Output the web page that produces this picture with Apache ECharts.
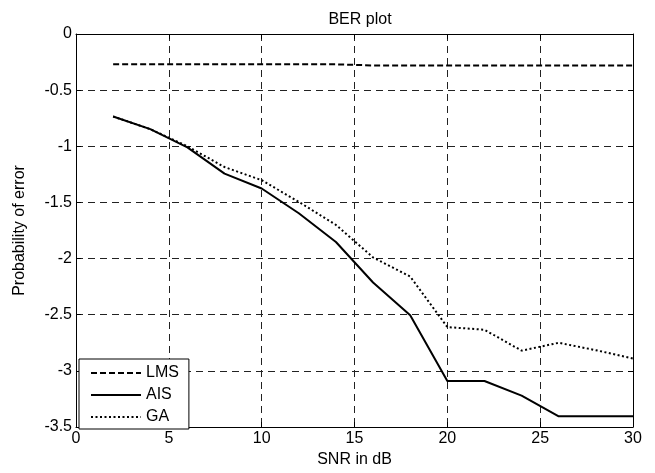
<!DOCTYPE html>
<html>
<head>
<meta charset="utf-8">
<script src="https://cdn.jsdelivr.net/npm/echarts@6/dist/echarts.min.js"></script>
<style>html,body{margin:0;padding:0;background:#fff;}#c{width:655px;height:473px;}</style>
</head>
<body>
<div id="c"></div>
<script>
const snr = [2, 4, 6, 8, 10, 12, 14, 16, 18, 20, 22, 24, 26, 28, 30];
const lms = [-0.27, -0.27, -0.27, -0.27, -0.27, -0.27, -0.27, -0.28, -0.28, -0.28, -0.28, -0.28, -0.28, -0.28, -0.28];
const ais = [-0.735, -0.847, -1.01, -1.243, -1.376, -1.596, -1.852, -2.213, -2.504, -3.09, -3.09, -3.22, -3.405, -3.405, -3.405];
const ga = [-0.735, -0.847, -1.0, -1.185, -1.302, -1.495, -1.70, -1.99, -2.16, -2.61, -2.634, -2.82, -2.75, -2.816, -2.89];
const xTicks = [0, 5, 10, 15, 20, 25, 30];
const yTicks = [0, -0.5, -1, -1.5, -2, -2.5, -3, -3.5];

const font = 'Liberation Sans, Arial, sans-serif';
const fs = 16;
const pair = (xs, ys) => xs.map((x, i) => [x, ys[i]]);

const chart = echarts.init(document.getElementById('c'), null, {renderer: 'canvas'});
const gridLine = {show: true, lineStyle: {color: '#222', type: [7, 5], width: 1}};
chart.setOption({
  animation: false,
  backgroundColor: '#fff',
  title: {text: 'BER plot', left: 355, textAlign: 'center', top: 7,
    textStyle: {fontFamily: font, fontSize: fs, fontWeight: 'normal', color: '#000'}},
  grid: {left: 76, right: 22, top: 34, bottom: 42, containLabel: false},
  legend: {
    left: 79, top: 359, orient: 'vertical', itemWidth: 50, itemHeight: 16, itemGap: 6,
    padding: [6, 10, 4, 11],
    borderColor: '#000', borderWidth: 1, backgroundColor: '#fff',
    textStyle: {fontFamily: font, fontSize: fs, color: '#000'},
    itemStyle: {opacity: 0},
    data: ['LMS', 'AIS', 'GA']
  },
  xAxis: [{
    type: 'value', min: 0, max: 30, interval: 5,
    name: 'SNR in dB', nameLocation: 'middle', nameGap: 25,
    nameTextStyle: {fontFamily: font, fontSize: fs, color: '#000'},
    axisLine: {show: true, onZero: false, lineStyle: {color: '#000', width: 1}},
    axisTick: {show: true, inside: true, length: 5, lineStyle: {color: '#000'}},
    axisLabel: {fontFamily: font, fontSize: fs, color: '#000', margin: 4},
    splitLine: gridLine
  }, {
    type: 'value', min: 0, max: 30, interval: 5, position: 'top',
    axisLine: {show: true, onZero: false, lineStyle: {color: '#000', width: 1}},
    axisTick: {show: true, inside: true, length: 5, lineStyle: {color: '#000'}},
    axisLabel: {show: false}, splitLine: {show: false}
  }],
  yAxis: [{
    type: 'value', min: -3.5, max: 0, interval: 0.5,
    name: 'Probability of error', nameLocation: 'middle', nameGap: 48,
    nameTextStyle: {fontFamily: font, fontSize: fs, color: '#000'},
    axisLine: {show: true, onZero: false, lineStyle: {color: '#000', width: 1}},
    axisTick: {show: true, inside: true, length: 5, lineStyle: {color: '#000'}},
    axisLabel: {fontFamily: font, fontSize: fs, color: '#000', margin: 4},
    splitLine: gridLine
  }, {
    type: 'value', min: -3.5, max: 0, interval: 0.5, position: 'right',
    axisLine: {show: true, onZero: false, lineStyle: {color: '#000', width: 1}},
    axisTick: {show: true, inside: true, length: 5, lineStyle: {color: '#000'}},
    axisLabel: {show: false}, splitLine: {show: false}
  }],
  series: [
    {name: 'LMS', type: 'line', data: pair(snr, lms), symbol: 'none', showSymbol: false,
      lineStyle: {color: '#000', width: 2, type: [6, 3]}, itemStyle: {color: '#000'}, z: 3},
    {name: 'AIS', type: 'line', data: pair(snr, ais), symbol: 'none', showSymbol: false,
      lineStyle: {color: '#000', width: 2, type: 'solid'}, itemStyle: {color: '#000'}, z: 3},
    {name: 'GA', type: 'line', data: pair(snr, ga), symbol: 'none', showSymbol: false,
      lineStyle: {color: '#000', width: 2, type: [2, 2.5]}, itemStyle: {color: '#000'}, z: 3}
  ]
});
</script>
</body>
</html>
